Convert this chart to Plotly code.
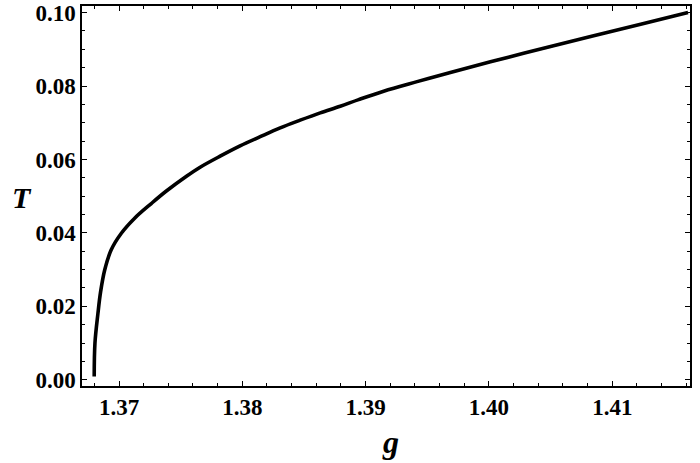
import plotly.graph_objects as go

g_vals = [1.36799, 1.36805, 1.36829, 1.36851, 1.36884, 1.36937, 1.37019, 1.37127,
          1.37262, 1.37384, 1.37550, 1.37658, 1.37820, 1.37982, 1.38145, 1.38307,
          1.38469, 1.38632, 1.38794, 1.38943, 1.39146, 1.39417, 1.39687, 1.40012,
          1.40418, 1.40824, 1.41230, 1.41614]
T_vals = [0.0009, 0.0100, 0.0180, 0.0240, 0.0299, 0.0354, 0.0399, 0.0440,
          0.0480, 0.0514, 0.0555, 0.0579, 0.0609, 0.0637, 0.0662, 0.0686,
          0.0707, 0.0727, 0.0745, 0.0763, 0.0786, 0.0812, 0.0837, 0.0866,
          0.0901, 0.0935, 0.0968, 0.1000]

x_ticks = [1.37, 1.38, 1.39, 1.40, 1.41]
x_tick_text = ["1.37", "1.38", "1.39", "1.40", "1.41"]
y_ticks = [0.00, 0.02, 0.04, 0.06, 0.08, 0.10]
y_tick_text = ["0.00", "0.02", "0.04", "0.06", "0.08", "0.10"]

font = "Liberation Serif"

fig = go.Figure()
fig.add_trace(go.Scatter(x=g_vals, y=T_vals, mode="lines",
                         line=dict(color="black", width=3.6, shape="spline", smoothing=1.0),
                         showlegend=False, hoverinfo="skip"))

axis_common = dict(showline=True, linecolor="black", linewidth=1.5, mirror="allticks",
                   ticks="inside", ticklen=5, tickwidth=1.2, tickcolor="black",
                   showgrid=False, zeroline=False, automargin=False,
                   tickfont=dict(family=font, size=23, color="black", weight="bold"))

fig.update_xaxes(range=[1.3670, 1.4163], tickvals=x_ticks, ticktext=x_tick_text,
                 minor=dict(dtick=0.002, tick0=1.37, ticks="inside", ticklen=3,
                            tickwidth=1, tickcolor="black", showgrid=False),
                 **axis_common)
fig.update_yaxes(range=[-0.0017, 0.1018], tickvals=y_ticks, ticktext=y_tick_text,
                 minor=dict(dtick=0.005, tick0=0, ticks="inside", ticklen=3,
                            tickwidth=1, tickcolor="black", showgrid=False),
                 **axis_common)

fig.add_annotation(text="<b><i>g</i></b>", xref="paper", yref="paper",
                   x=0.507, y=-0.148, yanchor="middle", showarrow=False,
                   font=dict(family=font, size=32, color="black"))
fig.add_annotation(text="<b><i>T</i></b>", xref="paper", yref="paper",
                   x=-0.099, y=0.497, xanchor="center", yanchor="middle", showarrow=False,
                   font=dict(family=font, size=30, color="black"))

fig.update_layout(width=700, height=463, plot_bgcolor="white", paper_bgcolor="white",
                  margin=dict(l=82, r=10, t=6, b=77))

fig.write_html("out.html", config={"displayModeBar": False},
               post_script="document.body.style.margin='0';document.body.style.padding='0';")
